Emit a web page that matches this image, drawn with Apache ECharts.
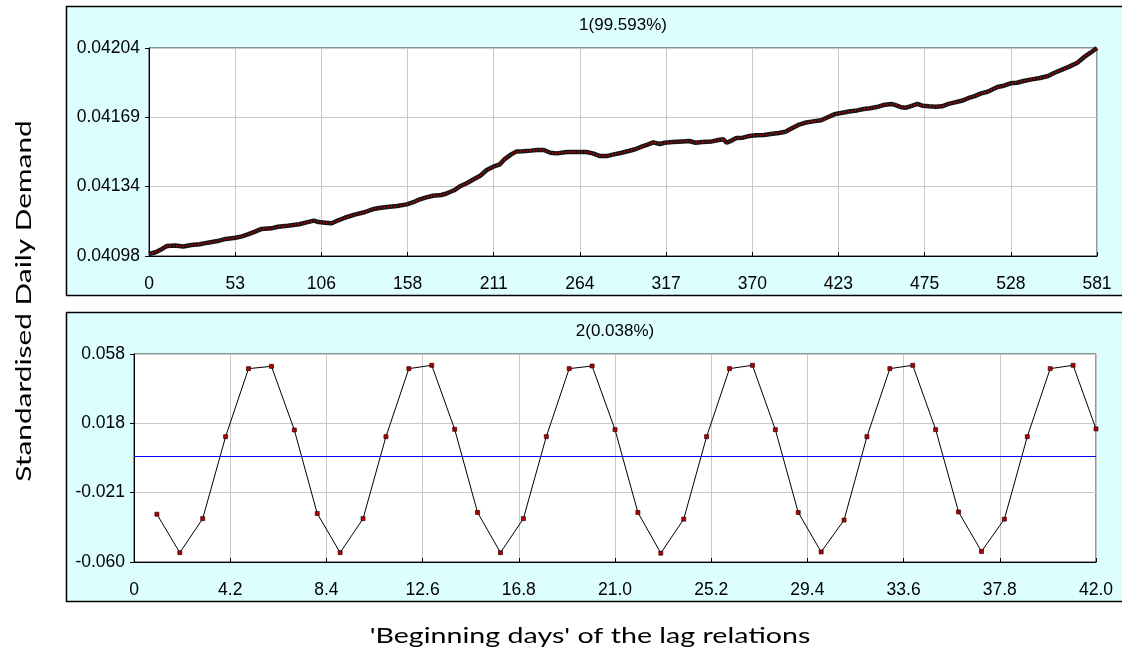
<!DOCTYPE html>
<html><head><meta charset="utf-8">
<script src="https://cdn.jsdelivr.net/npm/echarts@6/dist/echarts.min.js"></script>
<style>html,body{margin:0;padding:0;background:#fff;}#chart{width:1122px;height:653px;}</style>
</head><body><div id="chart"></div>
<script>
// ---------- data ----------
const panelTitles = ['1(99.593%)', '2(0.038%)'];
const yAxisTitle = 'Standardised Daily Demand';
const xAxisTitle = "'Beginning days' of the lag relations";

const topDays = [0,4,8,11,16,21,26,31,36,42,47,53,57,61,65,69,75,79,85,92,96,101,104,108,112,116,120,126,132,137,141,
  146,152,158,162,166,170,174,179,182,187,191,195,199,203,207,211,215,218,222,225,229,234,238,242,246,250,256,262,268,272,276,281,285,
  289,294,298,302,306,309,313,316,321,327,331,335,339,345,349,352,354,357,360,364,368,372,377,381,386,390,394,398,402,407,412,416,420,425,429,
  434,438,442,446,450,455,458,461,464,467,471,474,478,482,486,490,494,498,502,506,510,514,520,524,528,532,536,541,546,551,555,560,564,569,573,577,581];
const topValues = [0.040990,0.040999,0.041016,0.041031,0.041033,0.041028,0.041036,0.041040,0.041048,0.041056,0.041067,0.041073,0.041080,0.041091,0.041104,0.041118,0.041121,0.041129,0.041134,0.041142,0.041150,0.041160,0.041153,0.041150,0.041147,0.041162,0.041175,0.041191,0.041203,0.041218,0.041225,
  0.041230,0.041235,0.041243,0.041254,0.041269,0.041279,0.041287,0.041291,0.041297,0.041315,0.041337,0.041352,0.041371,0.041389,0.041418,0.041435,0.041447,0.041474,0.041498,0.041512,0.041514,0.041517,0.041520,0.041520,0.041506,0.041503,0.041510,0.041510,0.041510,0.041503,0.041490,0.041490,0.041498,
  0.041505,0.041515,0.041524,0.041537,0.041549,0.041559,0.041551,0.041557,0.041561,0.041564,0.041566,0.041557,0.041561,0.041564,0.041571,0.041575,0.041557,0.041568,0.041581,0.041583,0.041592,0.041595,0.041597,0.041602,0.041607,0.041613,0.041631,0.041648,0.041659,0.041666,0.041672,0.041687,0.041702,0.041710,0.041716,
  0.041722,0.041729,0.041733,0.041739,0.041749,0.041755,0.041748,0.041738,0.041736,0.041744,0.041755,0.041746,0.041743,0.041741,0.041743,0.041755,0.041763,0.041771,0.041784,0.041795,0.041809,0.041817,0.041841,0.041848,0.041860,0.041863,0.041872,0.041880,0.041887,0.041897,0.041914,0.041931,0.041945,0.041965,0.041993,0.042016,0.042040];
const topXTickLabels = ['0','53','106','158','211','264','317','370','423','475','528','581'];
const topYTickLabels = ['0.04098','0.04134','0.04169','0.04204'];

const bottomDays = [1,2,3,4,5,6,7,8,9,10,11,12,13,14,15,16,17,18,19,20,21,22,23,24,25,26,27,28,29,30,31,32,33,34,35,36,37,38,39,40,41,42];
const bottomValues = [
  -0.0329,-0.0547,-0.0354,0.0111,0.0497,0.0510,0.0149,
  -0.0325,-0.0547,-0.0354,0.0111,0.0497,0.0516,0.0153,
  -0.0319,-0.0547,-0.0354,0.0111,0.0497,0.0512,0.0151,
  -0.0319,-0.0550,-0.0357,0.0111,0.0497,0.0516,0.0151,
  -0.0319,-0.0543,-0.0362,0.0111,0.0497,0.0516,0.0151,
  -0.0316,-0.0540,-0.0357,0.0111,0.0497,0.0516,0.0155];
const bottomXTickLabels = ['0','4.2','8.4','12.6','16.8','21.0','25.2','29.4','33.6','37.8','42.0'];
const bottomYTickLabels = ['-0.060','-0.021','0.018','0.058'];
const referenceLevel = 0;

const topXRange = [0, 581], topYRange = [0.04098, 0.04204];
const botXRange = [0, 42], botYRange = [-0.060, 0.058];

// ---------- helpers ----------
function axisRange(range, labels) {
  const steps = labels.length - 1;
  const interval = (range[1] - range[0]) / steps;
  const min = range[0];
  const max = range[1] - Math.abs(interval) * 1e-9;
  const formatter = v => {
    let k = Math.round((v - min) / interval);
    k = Math.max(0, Math.min(labels.length - 1, k));
    return labels[k];
  };
  return { min, max, interval, formatter };
}
const LABEL_FONT = 'Liberation Sans';
const LABEL_SIZE = 17.5;
function xAxisOpt(gi, range, labels) {
  const a = axisRange(range, labels);
  return {
    type: 'value', gridIndex: gi, min: a.min, max: a.max, interval: a.interval,
    axisLine: { show: true, onZero: false, lineStyle: { color: '#000', width: 1 } },
    axisTick: { show: true, inside: true, length: 4, lineStyle: { color: '#000' } },
    axisLabel: { margin: 19, fontSize: LABEL_SIZE, color: '#000', fontFamily: LABEL_FONT, formatter: a.formatter, showMinLabel: true, showMaxLabel: true },
    splitLine: { show: true, lineStyle: { color: '#c8c8c8', width: 1 } }
  };
}
function yAxisOpt(gi, range, labels) {
  const a = axisRange(range, labels);
  return {
    type: 'value', gridIndex: gi, min: a.min, max: a.max, interval: a.interval, scale: true,
    axisLine: { show: true, onZero: false, lineStyle: { color: '#000', width: 1 } },
    axisTick: { show: true, inside: false, length: 4, lineStyle: { color: '#000' } },
    axisLabel: { margin: 9, fontSize: LABEL_SIZE, color: '#000', fontFamily: LABEL_FONT, formatter: a.formatter, showMinLabel: true, showMaxLabel: true },
    splitLine: { show: true, lineStyle: { color: '#c8c8c8', width: 1 } }
  };
}

const topData = topDays.map((d, i) => [d, topValues[i]]);
const bottomData = bottomDays.map((d, i) => [d, bottomValues[i]]);

const chart = echarts.init(document.getElementById('chart'), null, { renderer: 'canvas' });
chart.setOption({
  animation: false,
  backgroundColor: '#ffffff',
  grid: [
    { left: 149, top: 48, width: 948, height: 208, show: true, backgroundColor: '#ffffff', borderColor: '#303030', borderWidth: 1 },
    { left: 134, top: 354, width: 962, height: 208, show: true, backgroundColor: '#ffffff', borderColor: '#303030', borderWidth: 1 }
  ],
  xAxis: [xAxisOpt(0, topXRange, topXTickLabels), xAxisOpt(1, botXRange, bottomXTickLabels)],
  yAxis: [yAxisOpt(0, topYRange, topYTickLabels), yAxisOpt(1, botYRange, bottomYTickLabels)],
  graphic: [
    { type: 'rect', z: -10, shape: { x: 66.5, y: 6.5, width: 1070, height: 289 }, style: { fill: '#DCFEFF', stroke: '#000', lineWidth: 1.5 } },
    { type: 'rect', z: -10, shape: { x: 66.5, y: 312.5, width: 1070, height: 289 }, style: { fill: '#DCFEFF', stroke: '#000', lineWidth: 1.5 } },
    { type: 'text', x: 623, y: 25, style: { text: panelTitles[0], fontSize: 17, fontFamily: LABEL_FONT, fill: '#000', textAlign: 'center', textVerticalAlign: 'middle' } },
    { type: 'text', x: 615, y: 331, style: { text: panelTitles[1], fontSize: 17, fontFamily: LABEL_FONT, fill: '#000', textAlign: 'center', textVerticalAlign: 'middle' } },
    { type: 'text', x: 24, y: 301, rotation: Math.PI / 2, scaleX: 1.42, style: { text: yAxisTitle, fontSize: 21, fontFamily: 'Lato', fill: '#000', textAlign: 'center', textVerticalAlign: 'middle' } },
    { type: 'text', x: 590, y: 636, scaleX: 1.3, style: { text: xAxisTitle, fontSize: 22, fontFamily: 'Lato', fill: '#000', textAlign: 'center', textVerticalAlign: 'middle' } }
  ],
  series: [
    { type: 'line', xAxisIndex: 0, yAxisIndex: 0, data: topData, showSymbol: false, symbol: 'none',
      lineStyle: { color: '#151515', width: 4.5 }, emphasis: { disabled: true }, silent: true, z: 2 },
    { type: 'line', xAxisIndex: 0, yAxisIndex: 0, data: topData, showSymbol: false, symbol: 'none',
      lineStyle: { color: '#d00000', width: 1.6, type: [1.4, 1.8] }, emphasis: { disabled: true }, silent: true, z: 3 },
    { type: 'line', xAxisIndex: 1, yAxisIndex: 1, data: bottomData, showSymbol: true, symbol: 'rect', symbolSize: 4,
      lineStyle: { color: '#000', width: 1 }, itemStyle: { color: '#b00000', borderColor: '#300000', borderWidth: 0.7 },
      emphasis: { disabled: true }, silent: true, z: 3,
      markLine: { silent: true, symbol: 'none', label: { show: false }, lineStyle: { color: '#0000ff', width: 1, type: 'solid' },
        data: [{ yAxis: referenceLevel }] } }
  ]
});
</script></body></html>
